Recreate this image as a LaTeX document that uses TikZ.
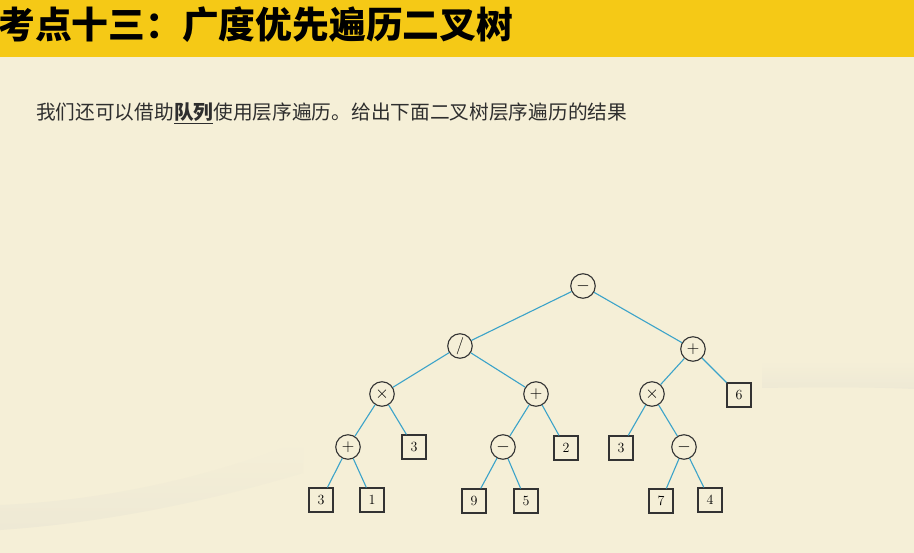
\documentclass[tikz,border=0pt]{standalone}
\usepackage{fontspec}
\newfontfamily\cjk{Noto Sans CJK SC}
\definecolor{bgcol}{HTML}{F5EFD7}
\definecolor{swoosh}{HTML}{EEE9D5}
\definecolor{titlebar}{HTML}{F5C916}
\definecolor{edgecol}{HTML}{3BA3C9}
\definecolor{nodeline}{HTML}{333333}
\definecolor{bodytext}{HTML}{2E2E2E}
\tikzset{
  opnode/.style={circle, draw=nodeline, line width=1.1pt, fill=bgcol, minimum size=24.5pt, inner sep=0pt, font=\fontsize{17}{17}\selectfont},
  leafnode/.style={rectangle, draw=nodeline, line width=1.1pt, fill=bgcol, minimum size=24pt, inner sep=0pt, font=\fontsize{14}{14}\selectfont},
  edge/.style={draw=edgecol, line width=1.1pt},
}
\begin{document}
\begin{tikzpicture}[x=1pt,y=-1pt]
\useasboundingbox (0,0) rectangle (914,553);
\fill[bgcol] (0,0) rectangle (914,553);
% background swooshes
\begin{scope}
\clip (0,380) rectangle (303,553);
\shade[top color=bgcol, bottom color=swoosh] (0,505) .. controls (120,500) and (230,470) .. (303,440) -- (303,473) .. controls (230,495) and (120,522) .. (0,530) -- cycle;
\end{scope}
\begin{scope}
\clip (762,330) rectangle (914,420);
\shade[top color=bgcol, bottom color=swoosh] (762,362) .. controls (820,360) and (870,360) .. (914,362) -- (914,389) .. controls (870,387) and (820,387) .. (762,388) -- cycle;
\end{scope}
% title bar
\fill[titlebar] (0,0) rectangle (914,57);
\node[anchor=base west, inner sep=0pt, font=\cjk\bfseries\fontsize{36.8}{36.8}\selectfont, text=black] (title) at (-2,38.5) {考点十三：广度优先遍历二叉树};
\node[anchor=base west, inner sep=0pt, font=\cjk\fontsize{19.7}{19.7}\selectfont, text=bodytext] (intro) at (36,119.5) {我们还可以借助\underline{\bfseries 队列}使用层序遍历。给出下面二叉树层序遍历的结果};
% edges (drawn first so nodes cover them)
\coordinate (c-root) at (583,286);
% tree nodes
\node[opnode] (root) at (583,286) {$-$};
\node[opnode] (div) at (460,346) {$/$};
\node[opnode] (plusR) at (693,349) {$+$};
\node[opnode] (timesL) at (382,394) {$\times$};
\node[opnode] (plusM) at (536,394) {$+$};
\node[opnode] (timesR) at (652,394) {$\times$};
\node[leafnode] (six) at (739,395) {6};
\node[opnode] (plusLL) at (348,447) {$+$};
\node[leafnode] (threeA) at (414,447) {3};
\node[opnode] (minusM) at (503,447) {$-$};
\node[leafnode] (two) at (566,448) {2};
\node[leafnode] (threeB) at (621,448) {3};
\node[opnode] (minusR) at (684,447) {$-$};
\node[leafnode] (threeC) at (321,500) {3};
\node[leafnode] (one) at (372,500) {1};
\node[leafnode] (nine) at (474,501) {9};
\node[leafnode] (five) at (526,501) {5};
\node[leafnode] (seven) at (661,501) {7};
\node[leafnode] (four) at (710,500) {4};
% edges
\draw[edge] (root) -- (div);
\draw[edge] (root) -- (plusR);
\draw[edge] (div) -- (timesL);
\draw[edge] (div) -- (plusM);
\draw[edge] (plusR) -- (timesR);
\draw[edge] (plusR) -- (six);
\draw[edge] (timesL) -- (plusLL);
\draw[edge] (timesL) -- (threeA);
\draw[edge] (plusM) -- (minusM);
\draw[edge] (plusM) -- (two);
\draw[edge] (timesR) -- (threeB);
\draw[edge] (timesR) -- (minusR);
\draw[edge] (plusLL) -- (threeC);
\draw[edge] (plusLL) -- (one);
\draw[edge] (minusM) -- (nine);
\draw[edge] (minusM) -- (five);
\draw[edge] (minusR) -- (seven);
\draw[edge] (minusR) -- (four);
\end{tikzpicture}
\end{document}
